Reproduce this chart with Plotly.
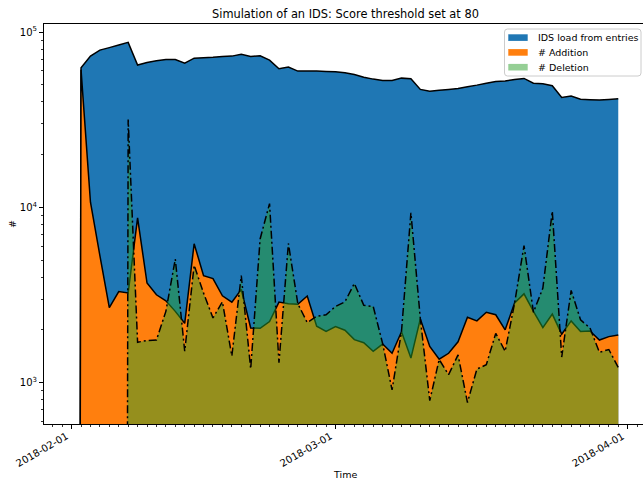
import plotly.graph_objects as go
import pandas as pd

# ---------------- data (daily, 2018-02-01 .. 2018-03-31) ----------------
dates = pd.date_range("2018-02-01", "2018-03-31", freq="D")

ids_load = [0,
            62600, 72900, 78900, 81500, 84400, 87300, 64800, 67100, 68600, 69800,
            69800, 66500, 71000, 71400, 71900, 72600, 72900, 74600, 72600, 73300,
            69200, 61800, 63100, 59900, 59900, 59900, 59600, 59400, 58600, 57300,
            55300, 53900, 52900, 52900, 54600, 54200, 47100, 46000, 46600, 47100,
            47700, 48800, 49800, 51100, 52300, 52500, 53700, 54400, 51100, 50700,
            49400, 42400, 43100, 41400, 41100, 40900, 41300, 41600]

additions = [0,
             61000, 10700, 5300, 2680, 3310, 3250, 8700, 3700, 3170, 2930,
             2550, 2180, 6200, 4080, 3920, 3130, 2880, 3400, 2050, 2040,
             2230, 2880, 2820, 2800, 3120, 2100, 1960, 2090, 1990, 1760,
             1690, 1510, 1660, 1470, 1950, 1380, 2310, 1610, 1360, 1470,
             1710, 2360, 2250, 2520, 2440, 2000, 2850, 3210, 2550, 2060,
             2460, 1890, 2250, 1960, 1970, 1750, 1830, 1870]

deletions = [0, 0, 0, 0, 0, 0,
             31700, 1700, 1740, 1750, 2550, 5070, 1510, 4670, 3240, 2340,
             2890, 1420, 4080, 1200, 6600, 10500, 1300, 6220, 2820, 2200,
             2390, 2440, 2720, 2890, 3680, 2760, 2720, 1670, 909, 1960,
             9320, 2310, 790, 1355, 1110, 1440, 770, 1195, 1265, 1910,
             1510, 2840, 6050, 2520, 3460, 9500, 1400, 3360, 2280, 2050,
             1490, 1545, 1220]

series_names = ["IDS load from entries", "# Addition", "# Deletion"]
series_fill = ["#1f77b4", "#ff7f0e", "rgba(44,160,44,0.5)"]
series_dash = ["solid", "solid", "8px,3px,2px,3px"]

title_text = "Simulation of an IDS: Score threshold set at 80"
x_label = "Time"
y_label = "#"
x_ticks = ["2018-02-01", "2018-03-01", "2018-04-01"]
y_ticks = [1e3, 1e4, 1e5]
y_ticktext = ["10<sup>3</sup>", "10<sup>4</sup>", "10<sup>5</sup>"]

# non-positive values are clipped to a tiny number on the log axis (matplotlib-like)
LOG_FLOOR = 1e-20


def clip(vals):
    return [v if v > 0 else LOG_FLOOR for v in vals]


FONT = "DejaVu Sans"
W, H = 643, 481
L, R, T, B = 44, 0, 24, 57
PW, PH = W - L - R, H - T - B


def px(x):
    return (x - L) / PW


def py(y):
    return (H - B - y) / PH


fig = go.Figure()
for vals, fc, dash in zip([ids_load, additions, deletions], series_fill, series_dash):
    fig.add_trace(go.Scatter(x=dates, y=[LOG_FLOOR] * len(dates), mode="lines",
                             line=dict(width=0, color="rgba(0,0,0,0)"),
                             hoverinfo="skip", showlegend=False))
    fig.add_trace(go.Scatter(x=dates, y=clip(vals), mode="lines", fill="tonexty",
                             fillcolor=fc,
                             line=dict(color="black", width=1.5, dash=dash, simplify=False),
                             showlegend=False))

minor_y = [m * 10 ** e for e in (2, 3, 4) for m in range(2, 10)]

fig.update_layout(
    width=W, height=H,
    margin=dict(l=L, r=R, t=T, b=B, autoexpand=False),
    paper_bgcolor="white", plot_bgcolor="white",
    font=dict(family=FONT, size=10, color="black"),
    showlegend=False,
    xaxis=dict(
        type="date", range=["2018-01-29 01:40", "2018-04-02 15:00"],
        tickmode="array", tickvals=x_ticks, showticklabels=False,
        ticks="outside", ticklen=4, tickwidth=1, tickcolor="black",
        showline=True, linecolor="black", linewidth=1, mirror=True,
        showgrid=False, zeroline=False,
        minor=dict(dtick=86400000, tick0="2018-02-01", ticks="outside",
                   ticklen=2, tickwidth=0.8, tickcolor="black", showgrid=False),
    ),
    yaxis=dict(
        type="log", range=[2.764, 5.046],
        tickmode="array", tickvals=y_ticks, ticktext=y_ticktext,
        ticks="outside", ticklen=4, tickwidth=1, tickcolor="black",
        showline=True, linecolor="black", linewidth=1, mirror=False,
        showgrid=False, zeroline=False,
        tickfont=dict(family=FONT, size=10, color="black"),
        minor=dict(tickmode="array", tickvals=minor_y, ticks="outside",
                   ticklen=2, tickwidth=0.8, tickcolor="black", showgrid=False),
    ),
)

annotations = [
    dict(text=title_text, x=px(345), y=py(14), xref="paper", yref="paper",
         xanchor="center", yanchor="middle", showarrow=False,
         font=dict(family=FONT, size=11.4, color="black")),
    dict(text=x_label, x=px(345), y=py(474), xref="paper", yref="paper",
         xanchor="center", yanchor="middle", showarrow=False,
         font=dict(family=FONT, size=9.5, color="black")),
    dict(text=y_label, x=px(12), y=py(224), xref="paper", yref="paper",
         xanchor="center", yanchor="middle", showarrow=False, textangle=-90,
         font=dict(family=FONT, size=9.5, color="black")),
]

# rotated date tick labels (matplotlib autofmt_xdate style: 30 deg, right-aligned)
for t in x_ticks:
    annotations.append(dict(text=t, x=t, xref="x", y=py(429), yref="paper",
                            xanchor="right", yanchor="top", textangle=-30,
                            showarrow=False, borderpad=0,
                            font=dict(family=FONT, size=10, color="black")))

# legend (matplotlib-style) drawn as shapes + text
lx0, lx1, ly0, ly1 = px(504.5), px(641), py(76), py(29)
rx, ry = 3 / PW, 3 / PH
path = (f"M {lx0+rx},{ly0} L {lx1-rx},{ly0} Q {lx1},{ly0} {lx1},{ly0+ry} "
        f"L {lx1},{ly1-ry} Q {lx1},{ly1} {lx1-rx},{ly1} L {lx0+rx},{ly1} "
        f"Q {lx0},{ly1} {lx0},{ly1-ry} L {lx0},{ly0+ry} Q {lx0},{ly0} {lx0+rx},{ly0} Z")
shapes = [dict(type="path", path=path, xref="paper", yref="paper",
               fillcolor="rgba(255,255,255,0.8)", line=dict(color="#cccccc", width=1),
               layer="above")]
row_centers = [37.6, 52.4, 67.2]
for name, fc, yc in zip(series_names, series_fill, row_centers):
    shapes.append(dict(type="rect", xref="paper", yref="paper",
                       x0=px(508.3), x1=px(527.7), y0=py(yc + 3.3), y1=py(yc - 3.3),
                       fillcolor=fc, line=dict(width=0), layer="above"))
    annotations.append(dict(text=name, x=px(535.7), y=py(yc), xref="paper", yref="paper",
                            xanchor="left", yanchor="middle", showarrow=False,
                            font=dict(family=FONT, size=9.5, color="black")))

fig.update_layout(shapes=shapes, annotations=annotations)
fig.write_html("out.html", config={"displayModeBar": False, "staticPlot": True})

# remove the browser's default body margin so the figure sits at (0, 0)
with open("out.html", encoding="utf-8") as f:
    html = f.read()
html = html.replace("<head>", "<head><style>html,body{margin:0;padding:0;overflow:hidden;}</style>", 1)
with open("out.html", "w", encoding="utf-8") as f:
    f.write(html)
